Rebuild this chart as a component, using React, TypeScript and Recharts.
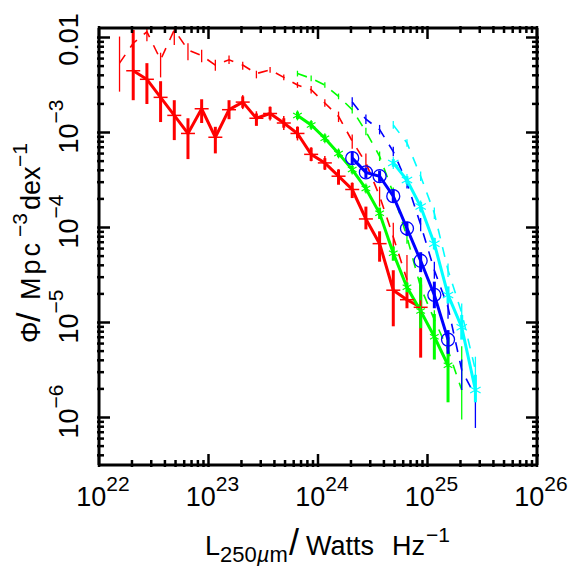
import { ComposedChart, Line, XAxis, YAxis, ErrorBar } from 'recharts'

// everything is log10: luminosity in Watts/Hz, phi in Mpc^-3 dex^-1
const redDashL = [22.1875, 22.3125, 22.4375, 22.5625, 22.6875, 22.8125, 22.9375, 23.0625, 23.1875, 23.3125, 23.4375, 23.5625, 23.6875, 23.8125, 23.9375, 24.0625, 24.1875, 24.3125, 24.4375, 24.5625, 24.6875, 24.8125]
const redDash = [-2.27, -2.06, -1.94, -2.235, -1.92, -2.13, -2.19, -2.29, -2.235, -2.29, -2.38, -2.34, -2.42, -2.5, -2.55, -2.69, -2.83, -3.09, -3.32, -3.67, -4.1, -4.55]
const redDashHi = [-1.99, -1.92, -1.89, -2.16, -1.89, -2.06, -2.13, -2.235, -2.19, -2.255, -2.35, -2.31, -2.39, -2.47, -2.51, -2.65, -2.78, -3.02, -3.22, -3.57, -3.95, -4.29]
const redDashLo = [-2.57, -2.16, -2.04, -2.42, -2.08, -2.24, -2.26, -2.35, -2.28, -2.34, -2.43, -2.37, -2.45, -2.53, -2.59, -2.73, -2.89, -3.17, -3.41, -3.78, -4.27, -4.78]

const redL = [22.3125, 22.4375, 22.5625, 22.6875, 22.8125, 22.9375, 23.0625, 23.1875, 23.3125, 23.4375, 23.5625, 23.6875, 23.8125, 23.9375, 24.0625, 24.1875, 24.3125, 24.4375, 24.5625, 24.6875, 24.8125, 24.9375]
const red = [-2.35, -2.44, -2.63, -2.82, -3.01, -2.75, -3.05, -2.76, -2.68, -2.85, -2.8, -2.9, -3.01, -3.23, -3.32, -3.46, -3.6, -3.91, -4.17, -4.66, -4.76, -4.84]
const redHi = [-1.92, -2.27, -2.46, -2.66, -2.85, -2.65, -2.94, -2.66, -2.62, -2.8, -2.73, -2.85, -2.94, -3.16, -3.27, -3.39, -3.53, -3.78, -4.04, -4.45, -4.68, -4.6]
const redLo = [-2.66, -2.7, -2.89, -3.08, -3.28, -2.9, -3.22, -2.86, -2.74, -2.93, -2.86, -2.95, -3.06, -3.3, -3.39, -3.55, -3.69, -4.02, -4.36, -5.04, -4.85, -5.37]

const greenDashL = [23.8125, 23.9375, 24.0625, 24.1875, 24.3125, 24.4375, 24.5625, 24.6875, 24.8125, 24.9375, 25.0625, 25.1875, 25.3125]
const greenDash = [-2.38, -2.43, -2.5, -2.62, -2.76, -2.99, -3.25, -3.64, -4.1, -4.63, -4.97, -5.29, -5.71]
const greenDashHi = [-2.35, -2.4, -2.47, -2.59, -2.72, -2.95, -3.2, -3.58, -4.03, -4.52, -4.87, -5.16, -5.25]
const greenDashLo = [-2.41, -2.46, -2.53, -2.65, -2.8, -3.03, -3.3, -3.7, -4.17, -4.78, -5.08, -5.41, -6.02]

const greenL = [23.8125, 23.9375, 24.0625, 24.1875, 24.3125, 24.4375, 24.5625, 24.6875, 24.8125, 24.9375, 25.0625, 25.1875]
const green = [-2.82, -2.92, -3.06, -3.22, -3.39, -3.59, -3.85, -4.27, -4.63, -4.88, -5.15, -5.45]
const greenHi = [-2.78, -2.88, -3.02, -3.18, -3.35, -3.55, -3.79, -4.2, -4.58, -4.53, -4.91, -5.15]
const greenLo = [-2.86, -2.96, -3.1, -3.26, -3.43, -3.63, -3.91, -4.35, -4.68, -5.06, -5.39, -5.84]

const blueDashL = [24.3125, 24.4375, 24.5625, 24.6875, 24.8125, 24.9375, 25.0625, 25.1875, 25.3125, 25.4375]
const blueDash = [-2.68, -2.86, -2.97, -3.2, -3.53, -3.97, -4.45, -4.84, -5.5, -5.78]
const blueDashHi = [-2.63, -2.81, -2.92, -3.15, -3.47, -3.9, -4.36, -4.72, -5.39, -5.64]
const blueDashLo = [-2.73, -2.91, -3.02, -3.25, -3.59, -4.04, -4.54, -4.96, -5.71, -6.11]

const blueL = [24.3125, 24.4375, 24.5625, 24.6875, 24.8125, 24.9375, 25.0625, 25.1875]
const blue = [-3.27, -3.42, -3.46, -3.67, -4.01, -4.35, -4.71, -5.18]
const blueHi = [-3.2, -3.37, -3.4, -3.6, -3.94, -4.26, -4.57, -5.08]
const blueLo = [-3.34, -3.48, -3.52, -3.74, -4.09, -4.47, -4.85, -5.33]

const cyanDashL = [24.6875, 24.8125, 24.9375, 25.0625, 25.1875, 25.3125, 25.4375]
const cyanDash = [-2.92, -3.11, -3.46, -3.85, -4.45, -4.9, -5.5]
const cyanDashHi = [-2.88, -3.07, -3.41, -3.79, -4.38, -4.8, -5.36]
const cyanDashLo = [-2.96, -3.15, -3.51, -3.91, -4.52, -5.0, -5.68]

const cyanL = [24.6875, 24.8125, 24.9375, 25.0625, 25.1875, 25.3125, 25.4375]
const cyan = [-3.32, -3.5, -3.78, -4.17, -4.71, -5.05, -5.71]
const cyanHi = [-3.28, -3.46, -3.73, -4.11, -4.62, -4.92, -5.55]
const cyanLo = [-3.36, -3.54, -3.83, -4.23, -4.8, -5.18, -5.84]

const xMajor = [22, 23, 24, 25, 26]
const yMajor = [-6, -5, -4, -3, -2]
const minorSteps = [2, 3, 4, 5, 6, 7, 8, 9]
const xDomain = [22, 26]
const yDomain = [-6.5, -1.9]

const FONT = '"Liberation Sans", Arial, sans-serif'

const inRange = (v: number, d: number[]) => v >= d[0] && v <= d[1]
const withMinors = (majors: number[], domain: number[]) => {
  const out = [...majors]
  for (let m = domain[0] - 1; m < domain[1]; m++) {
    const base = Math.floor(m)
    minorSteps.forEach((k) => out.push(base + Math.log10(k)))
  }
  return out.filter((v) => inRange(v, domain))
}
const xTicks = withMinors(xMajor, xDomain)
const yTicks = withMinors(yMajor, yDomain)

function rows(l: number[], v: number[], hi: number[], lo: number[]) {
  return l.map((x, i) => ({ x, y: v[i], err: [v[i] - lo[i], hi[i] - v[i]] }))
}

const isMajor = (v: number) => Number.isInteger(v)

function xTick(side: 'bottom' | 'top') {
  return (p: any) => {
    const v = p.payload.value
    const len = isMajor(v) ? 13 : 7
    const dir = side === 'bottom' ? -1 : 1
    return (
      <g>
        <line x1={p.x} x2={p.x} y1={p.y} y2={p.y + dir * len} stroke="#000" strokeWidth={2.5} />
        {side === 'bottom' && isMajor(v) && (
          <text x={p.x + 4} y={p.y + 39} textAnchor="middle" fontFamily={FONT} fontSize={27} fill="#000">
            10<tspan dy={-15} fontSize={21}>{v}</tspan>
          </text>
        )}
      </g>
    )
  }
}

function yTick(side: 'left' | 'right') {
  return (p: any) => {
    const v = p.payload.value
    const len = isMajor(v) ? 13 : 7
    const dir = side === 'left' ? 1 : -1
    const lx = p.x - 19
    const ly = v === -2 ? p.y + 2 : p.y - 6
    return (
      <g>
        <line x1={p.x} x2={p.x + dir * len} y1={p.y} y2={p.y} stroke="#000" strokeWidth={2.5} />
        {side === 'left' && isMajor(v) && (
          <text x={lx} y={ly} transform={`rotate(-90 ${lx} ${ly})`} textAnchor="middle" fontFamily={FONT} fontSize={27} fill="#000">
            {v === -2 ? '0.01' : (
              <>
                10<tspan dy={-15} fontSize={21}>{`\u2212${-v}`}</tspan>
              </>
            )}
          </text>
        )}
      </g>
    )
  }
}

function Plus(p: any) {
  return (
    <g stroke="#ff0000" strokeWidth={1.5}>
      <line x1={p.cx - 7} x2={p.cx + 7} y1={p.cy} y2={p.cy} />
      <line x1={p.cx} x2={p.cx} y1={p.cy - 7} y2={p.cy + 7} />
    </g>
  )
}

function Star(p: any, color: string, r: number) {
  const d = r * 0.866
  const h = r * 0.5
  return (
    <g stroke={color} strokeWidth={1.2} key={p.key}>
      <line x1={p.cx} x2={p.cx} y1={p.cy - r} y2={p.cy + r} />
      <line x1={p.cx - d} x2={p.cx + d} y1={p.cy - h} y2={p.cy + h} />
      <line x1={p.cx - d} x2={p.cx + d} y1={p.cy + h} y2={p.cy - h} />
    </g>
  )
}

function Ring(p: any) {
  return <circle cx={p.cx} cy={p.cy} r={6.5} fill="none" stroke="#0000ff" strokeWidth={1.3} />
}

const series = [
  { key: 'redDash', data: rows(redDashL, redDash, redDashHi, redDashLo), color: '#ff0000', dashed: true, dot: false as any },
  { key: 'red', data: rows(redL, red, redHi, redLo), color: '#ff0000', dashed: false, dot: Plus as any },
  { key: 'greenDash', data: rows(greenDashL, greenDash, greenDashHi, greenDashLo), color: '#00ff00', dashed: true, dot: false as any },
  { key: 'green', data: rows(greenL, green, greenHi, greenLo), color: '#00ff00', dashed: false, dot: ((p: any) => Star(p, '#00ff00', 5)) as any },
  { key: 'blueDash', data: rows(blueDashL, blueDash, blueDashHi, blueDashLo), color: '#0000ff', dashed: true, dot: false as any },
  { key: 'blue', data: rows(blueL, blue, blueHi, blueLo), color: '#0000ff', dashed: false, dot: Ring as any },
  { key: 'cyanDash', data: rows(cyanDashL, cyanDash, cyanDashHi, cyanDashLo), color: '#00ffff', dashed: true, dot: false as any },
  { key: 'cyan', data: rows(cyanL, cyan, cyanHi, cyanLo), color: '#00ffff', dashed: false, dot: ((p: any) => Star(p, '#00ffff', 6)) as any },
]

export default function App() {
  return (
    <div style={{ position: 'absolute', left: 0, top: 0 }}>
      <ComposedChart width={568} height={566} margin={{ top: 0, right: 0, bottom: 0, left: 0 }}>
        <XAxis dataKey="x" xAxisId={0} type="number" domain={xDomain} ticks={xTicks} interval={0} allowDataOverflow
          height={101} tickSize={0} tickLine={false} axisLine={{ stroke: '#000', strokeWidth: 3 }} tick={xTick('bottom')} />
        <XAxis dataKey="x" xAxisId="top" orientation="top" type="number" domain={xDomain} ticks={xTicks} interval={0} allowDataOverflow
          height={28} tickSize={0} tickLine={false} axisLine={{ stroke: '#000', strokeWidth: 3 }} tick={xTick('top')} />
        <YAxis dataKey="y" yAxisId={0} type="number" domain={yDomain} ticks={yTicks} interval={0} allowDataOverflow
          width={99} tickSize={0} tickLine={false} axisLine={{ stroke: '#000', strokeWidth: 3 }} tick={yTick('left')} />
        <YAxis dataKey="y" yAxisId="right" orientation="right" type="number" domain={yDomain} ticks={yTicks} interval={0} allowDataOverflow
          width={31} tickSize={0} tickLine={false} axisLine={{ stroke: '#000', strokeWidth: 3 }} tick={yTick('right')} />
        {series.map((s) => (
          <Line
            key={s.key}
            data={s.data}
            dataKey="y"
            type="linear"
            stroke={s.color}
            strokeWidth={s.dashed ? 1.6 : 3}
            strokeDasharray={s.dashed ? '10 9' : undefined}
            dot={s.dot}
            activeDot={false}
            legendType="none"
            isAnimationActive={false}
          >
            <ErrorBar dataKey="err" direction="y" width={0} stroke={s.color} strokeWidth={s.dashed ? 1.3 : 3} isAnimationActive={false} />
          </Line>
        ))}
        <text y={555} fontFamily={FONT} fontSize={27} fill="#000">
          <tspan x={205}>L</tspan>
          <tspan x={220} y={562} fontSize={22}>250</tspan>
          <tspan fontSize={22} fontStyle="italic">{'\u00b5'}</tspan>
          <tspan fontSize={22}>m</tspan>
          <tspan x={289} y={555} fontSize={36} fontWeight={200}>/</tspan>
          <tspan x={306}>Watts</tspan>
          <tspan x={392}>Hz</tspan>
          <tspan x={426} y={542} fontSize={21}>{'\u22121'}</tspan>
        </text>
        <text transform="translate(40 343) rotate(-90)" fontFamily={FONT} fontSize={27} fill="#000">
          <tspan x={0}>{'\u03a6'}</tspan>
          <tspan x={21} fontSize={34}>/</tspan>
          <tspan x={43} letterSpacing={3}>Mpc</tspan>
          <tspan x={106} y={-13} fontSize={21}>{'\u22123'}</tspan>
          <tspan x={133} y={0}>dex</tspan>
          <tspan x={176} y={-13} fontSize={21}>{'\u22121'}</tspan>
        </text>
      </ComposedChart>
    </div>
  )
}
